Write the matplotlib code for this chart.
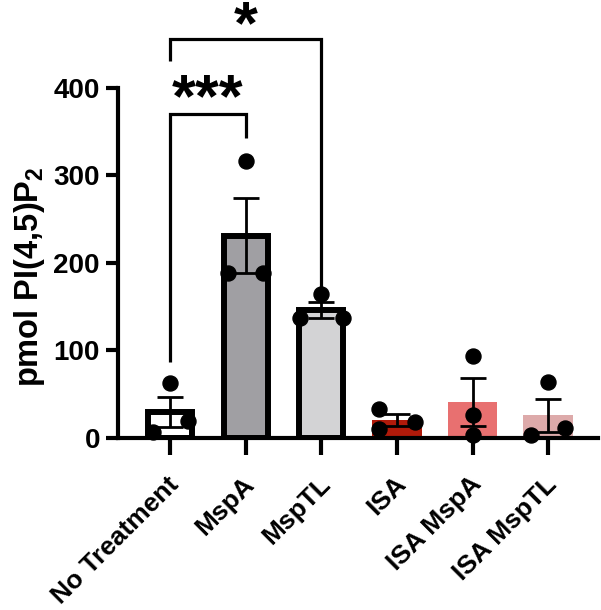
import matplotlib
matplotlib.use("Agg")
import matplotlib.pyplot as plt
import matplotlib.transforms as mtransforms
import numpy as np

plt.rcParams['font.family'] = ['Liberation Sans', 'DejaVu Sans']
plt.rcParams['mathtext.fontset'] = 'custom'
plt.rcParams['mathtext.rm'] = 'Liberation Sans:bold'
plt.rcParams['mathtext.bf'] = 'Liberation Sans:bold'

categories = ["No Treatment", "MspA", "MspTL", "ISA", "ISA MspA", "ISA MspTL"]
points = [
    [62, 19, 6],
    [317, 188, 188],
    [164, 137, 137],
    [33, 10, 18],
    [93, 26, 3],
    [63, 3, 10.5],
]
bar_colors = ["#FFFFFF", "#A09FA3", "#D3D3D5", "#B01A0A", "#E87070", "#DDAAAA"]
edged = [True, True, True, False, False, False]
yticks = [0, 100, 200, 300, 400]

# layout: horizontal jitter of dots (in bar units)
dot_offsets = [
    [0.0, 0.23, -0.23],
    [0.0, -0.23, 0.23],
    [0.0, -0.28, 0.28],
    [-0.24, -0.24, 0.24],
    [0.0, 0.0, 0.0],
    [0.0, -0.22, 0.22],
]

means = [np.mean(p) for p in points]
sems = [np.std(p, ddof=1) / np.sqrt(len(p)) for p in points]

fig = plt.figure(figsize=(6.01, 6.10), dpi=100)
ax = fig.add_axes([118 / 601, (610 - 437.5) / 610, (598 - 118) / 601, (437.5 - 88) / 610])

x = np.arange(len(categories))
for i in range(len(categories)):
    if edged[i]:
        ax.bar(x[i], means[i], width=0.585, color=bar_colors[i], edgecolor='black',
               linewidth=4.3, zorder=2)
    else:
        ax.bar(x[i], means[i], width=0.66, color=bar_colors[i], linewidth=0, zorder=2)
    ax.errorbar(x[i], means[i], yerr=sems[i], color='black', capsize=9.5,
                elinewidth=2.0, capthick=2.0, zorder=3)
    ax.plot(x[i] + np.array(dot_offsets[i]), points[i], 'o', color='black',
            markersize=10.8, zorder=4, clip_on=False)

ax.set_xlim(-0.69, 5.66)
ax.set_ylim(0, 400)
ax.set_yticks(yticks)
ax.set_xticks(x)
ax.set_xticklabels([""] * len(categories))
# category labels, rotated 45 degrees, anchored at their right-centre
shift = mtransforms.ScaledTranslation(5 / 100, -43 / 100, fig.dpi_scale_trans)
for xi, name in zip(x, categories):
    ax.text(xi, 0, name, transform=ax.get_xaxis_transform() + shift,
            rotation=45, ha='right', va='center', rotation_mode='anchor',
            fontsize=19, fontweight='bold', clip_on=False)
for lab in ax.get_yticklabels():
    lab.set_fontsize(20)
    lab.set_fontweight('bold')
ax.set_ylabel(r"pmol PI(4,5)P$_{2}$", fontsize=23.5, fontweight='bold')
ax.yaxis.set_label_coords(-(118 - 47) / 480, (437.5 - 276.5) / 349.5)

for s in ['top', 'right']:
    ax.spines[s].set_visible(False)
for s in ['left', 'bottom']:
    ax.spines[s].set_linewidth(3)
ax.tick_params(axis='y', width=3, length=9, color='black', pad=4)
ax.tick_params(axis='x', width=3, length=12, color='black', pad=14)

# significance brackets
lw = 2.3
def bracket(x1, x2, y_top, y_left, y_right, label, label_y, fs):
    ax.plot([x1, x1, x2, x2], [y_left, y_top, y_top, y_right], color='black',
            lw=lw, clip_on=False, solid_capstyle='butt', solid_joinstyle='miter')
    ax.text((x1 + x2) / 2, label_y, label, ha='center', va='baseline',
            fontsize=fs, fontweight='bold', clip_on=False)

bracket(0, 1, 370, 86.5, 343, "***", 368, 44)
bracket(0, 2, 456, 431, 169, "*", 451, 44)

fig.savefig("out.png", dpi=100)
